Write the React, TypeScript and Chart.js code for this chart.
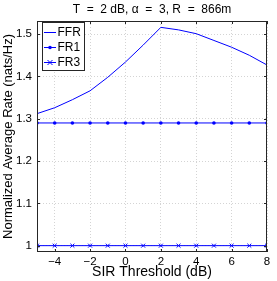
import React, { useEffect, useRef } from 'react';
import { Chart, registerables } from 'chart.js';
Chart.register(...registerables);

const sirThreshold = [-5, -4, -3, -2, -1, 0, 1, 2, 3, 4, 5, 6, 7, 8];
const ffrRate = [1.312, 1.326, 1.345, 1.366, 1.398, 1.434, 1.474, 1.516, 1.510, 1.501, 1.485, 1.469, 1.450, 1.427];
const fr1Rate = [1.29, 1.29, 1.29, 1.29, 1.29, 1.29, 1.29, 1.29, 1.29, 1.29, 1.29, 1.29, 1.29, 1.29];
const fr3Rate = [1.0, 1.0, 1.0, 1.0, 1.0, 1.0, 1.0, 1.0, 1.0, 1.0, 1.0, 1.0, 1.0, 1.0];
const xTicks = [-4, -2, 0, 2, 4, 6, 8];
const yTicks = [1, 1.1, 1.2, 1.3, 1.4, 1.5];
const seriesNames = ['FFR', 'FR1', 'FR3'];
const titleText = 'T  =  2 dB, \u03b1  =  3, R  =  866m';
const xTitle = 'SIR Threshold (dB)';
const yTitle = 'Normalized Average Rate (nats/Hz)';

const BLUE = '#0000ff';
const AXIS = '#262626';
const FONT = '"Liberation Sans", Arial, sans-serif';

const fmt = (v: number) => {
  const s = Number.isInteger(v) ? String(v) : String(Math.round(v * 10) / 10);
  return s.replace('-', '\u2212');
};

const decorPlugin = {
  id: 'decor',
  afterDatasetsDraw(chart: any) {
    const { ctx, chartArea: a, scales } = chart;
    ctx.save();
    ctx.strokeStyle = AXIS;
    ctx.lineWidth = 1;
    ctx.strokeRect(Math.round(a.left) + 0.5, Math.round(a.top) + 0.5, Math.round(a.right - a.left) - 1, Math.round(a.bottom - a.top) - 1);
    const tl = 3;
    ctx.beginPath();
    xTicks.forEach((t) => {
      const x = Math.round(scales.x.getPixelForValue(t)) + 0.5;
      ctx.moveTo(x, a.bottom); ctx.lineTo(x, a.bottom - tl);
      ctx.moveTo(x, a.top); ctx.lineTo(x, a.top + tl);
    });
    yTicks.forEach((t) => {
      const y = Math.round(scales.y.getPixelForValue(t)) + 0.5;
      ctx.moveTo(a.left, y); ctx.lineTo(a.left + tl, y);
      ctx.moveTo(a.right, y); ctx.lineTo(a.right - tl, y);
    });
    ctx.stroke();
    ctx.fillStyle = '#000';
    ctx.font = `12px ${FONT}`;
    ctx.textAlign = 'center';
    ctx.textBaseline = 'alphabetic';
    ctx.fillText(titleText, (a.left + a.right) / 2, 13);
    const lx = a.left + 5, ly = a.top + 1, lw = 43, lh = 49;
    ctx.fillStyle = '#fff';
    ctx.fillRect(lx, ly, lw, lh);
    ctx.strokeStyle = AXIS;
    ctx.strokeRect(lx + 0.5, ly + 0.5, lw - 1, lh - 1);
    seriesNames.forEach((name, i) => {
      const y = ly + 10.5 + i * 15;
      ctx.strokeStyle = BLUE;
      ctx.lineWidth = 1;
      ctx.beginPath();
      ctx.moveTo(lx + 2, y); ctx.lineTo(lx + 14, y);
      ctx.stroke();
      const cx = lx + 8;
      if (i === 1) {
        ctx.fillStyle = BLUE;
        ctx.beginPath(); ctx.arc(cx, y, 1.8, 0, Math.PI * 2); ctx.fill();
      } else if (i === 2) {
        ctx.beginPath();
        ctx.moveTo(cx - 2.5, y - 2.5); ctx.lineTo(cx + 2.5, y + 2.5);
        ctx.moveTo(cx - 2.5, y + 2.5); ctx.lineTo(cx + 2.5, y - 2.5);
        ctx.stroke();
      }
      ctx.fillStyle = '#000';
      ctx.font = `12px ${FONT}`;
      ctx.textAlign = 'left';
      ctx.textBaseline = 'middle';
      ctx.fillText(name, lx + 15.5, y + 0.5);
    });
    ctx.restore();
  },
};

export default function App() {
  const ref = useRef<HTMLCanvasElement | null>(null);
  useEffect(() => {
    const canvas = ref.current;
    if (!canvas) return;
    const toPts = (ys: number[]) => sirThreshold.map((x, i) => ({ x, y: ys[i] }));
    const chart = new Chart(canvas, {
      type: 'line',
      data: {
        datasets: [
          { label: seriesNames[0], data: toPts(ffrRate), borderColor: BLUE, borderWidth: 1, pointRadius: 0, tension: 0 },
          { label: seriesNames[1], data: toPts(fr1Rate), borderColor: BLUE, backgroundColor: BLUE, borderWidth: 1, pointRadius: 1.8, pointStyle: 'circle', pointBorderWidth: 0 },
          { label: seriesNames[2], data: toPts(fr3Rate), borderColor: BLUE, borderWidth: 1, pointRadius: 2.8, pointStyle: 'crossRot', pointBorderWidth: 1, pointBorderColor: BLUE },
        ],
      },
      plugins: [decorPlugin],
      options: {
        responsive: false,
        animation: false,
        events: [],
        layout: { padding: { left: 0, right: 10, top: 21, bottom: 0 } },
        plugins: { legend: { display: false }, title: { display: false }, tooltip: { enabled: false } },
        scales: {
          x: {
            type: 'linear',
            min: -5,
            max: 8,
            afterBuildTicks: (s: any) => { s.ticks = xTicks.map((v) => ({ value: v })); },
            afterFit: (s: any) => { s.height = 29; },
            ticks: { callback: (v: any) => fmt(Number(v)), color: '#000', font: { family: FONT, size: 11.5 }, padding: 3, maxRotation: 0, autoSkip: false },
            grid: { color: '#d4d4d4', lineWidth: 1, drawTicks: false },
            border: { display: false, dash: [1, 2] },
            title: { display: true, text: xTitle, color: '#000', font: { family: FONT, size: 14 }, padding: { top: 0, bottom: 0 } },
          },
          y: {
            type: 'linear',
            min: 0.985,
            max: 1.531,
            afterBuildTicks: (s: any) => { s.ticks = yTicks.map((v) => ({ value: v })); },
            afterFit: (s: any) => { s.width = 37; },
            ticks: { callback: (v: any) => fmt(Number(v)), color: '#000', font: { family: FONT, size: 11.5 }, padding: 5, autoSkip: false },
            grid: { color: '#d4d4d4', lineWidth: 1, drawTicks: false },
            border: { display: false, dash: [1, 2] },
            title: { display: true, text: yTitle, color: '#000', font: { family: FONT, size: 13 }, padding: { top: 1, bottom: 0 } },
          },
        },
      },
    });
    return () => chart.destroy();
  }, []);
  return (
    <div style={{ position: 'fixed', left: 0, top: 0, width: 277, height: 281, background: '#fff' }}>
      <canvas ref={ref} width={277} height={281} style={{ display: 'block' }} />
    </div>
  );
}
